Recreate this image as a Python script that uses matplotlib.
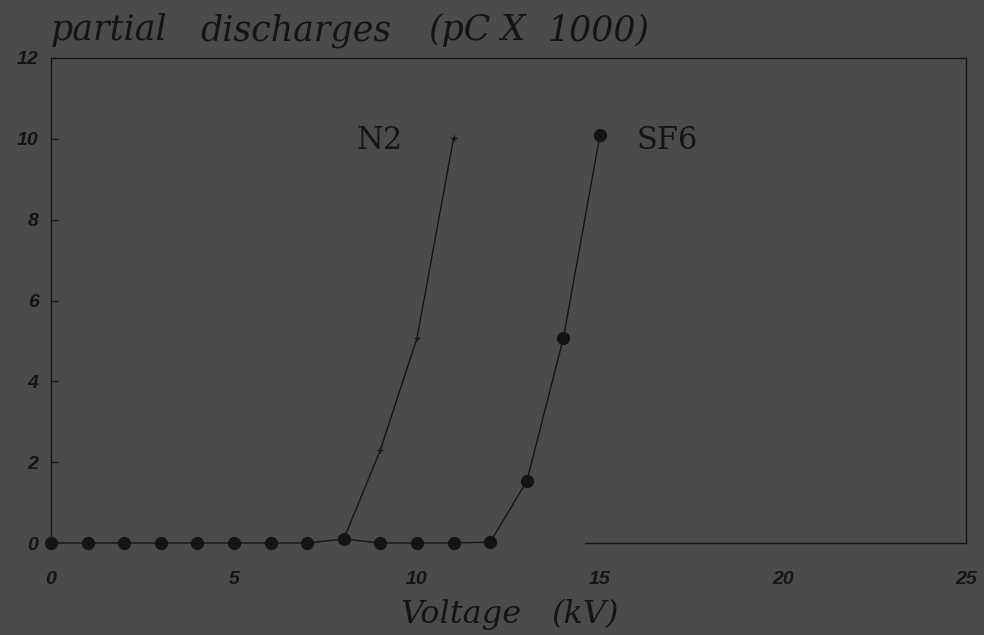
import matplotlib
matplotlib.use("Agg")
import matplotlib.pyplot as plt
from matplotlib import font_manager as fm

# values
voltage_sf6 = [0, 1, 2, 3, 4, 5, 6, 7, 8, 9, 10, 11, 12, 13, 14, 15]
pd_sf6 = [0, 0, 0, 0, 0, 0, 0, 0, 0.1, 0, 0, 0, 0.02, 1.53, 5.07, 10.1]
voltage_n2 = [8, 9, 10, 11]
pd_n2 = [0.1, 2.3, 5.07, 10.02]
x_ticks = [0, 5, 10, 15, 20, 25]
y_ticks = [0, 2, 4, 6, 8, 10, 12]

# the scan uses a widely spaced italic face, so the words are set one by one
title_words = ['partial', 'discharges', '(pC', 'X', '1000)']
title_x = [50, 200, 428, 500, 548]
xlabel_words = ['Voltage', '(kV)']
xlabel_x = [400, 552]

bg = '#4b4b4b'
ink = '#141414'
W, H = 984, 635

names = {f.name for f in fm.fontManager.ttflist}
tick_font = 'Liberation Sans Narrow' if 'Liberation Sans Narrow' in names else 'Liberation Sans'

fig = plt.figure(figsize=(W / 100, H / 100), dpi=100, facecolor=bg)
ax = fig.add_axes([51 / W, 1 - 543 / H, 915 / W, 485 / H], facecolor=bg)

ax.plot(voltage_sf6, pd_sf6, color=ink, lw=1.0, marker='o', ms=8.5,
        mfc=ink, mec=ink, clip_on=False, zorder=3)
ax.plot(voltage_n2, pd_n2, color=ink, lw=1.0, marker='+', ms=4,
        mew=1.0, clip_on=False, zorder=3)

ax.set_xlim(0, 25)
ax.set_ylim(0, 12)

for s in ax.spines.values():
    s.set_color(ink)
    s.set_linewidth(1.0)
ax.spines['bottom'].set_bounds(14.6, 25)

ax.set_xticks(x_ticks)
ax.set_yticks(y_ticks)
ax.set_xticklabels([str(v) for v in x_ticks])
ax.set_yticklabels([str(v) for v in y_ticks])
ax.tick_params(axis='x', length=0, pad=20, colors=ink)
ax.tick_params(axis='y', direction='in', length=5, width=0.8, pad=9, colors=ink)
for lab in ax.get_xticklabels() + ax.get_yticklabels():
    lab.set_fontfamily(tick_font)
    lab.set_fontstyle('italic')
    lab.set_fontweight('bold')
    lab.set_fontsize(14)

for word, px in zip(title_words, title_x):
    fig.text(px / W, 1 - 40 / H, word, ha='left', va='baseline',
             fontsize=25, fontstyle='italic', family='DejaVu Serif', color=ink)
for word, px in zip(xlabel_words, xlabel_x):
    fig.text(px / W, 1 - 623 / H, word, ha='left', va='baseline',
             fontsize=23, fontstyle='italic', family='DejaVu Serif', color=ink)

ax.text(8.36, 9.97, 'N2', fontsize=22, family='DejaVu Serif', color=ink, va='center')
ax.text(16.0, 9.97, 'SF6', fontsize=22, family='DejaVu Serif', color=ink, va='center')

fig.savefig('out.png', dpi=100, facecolor=bg)
